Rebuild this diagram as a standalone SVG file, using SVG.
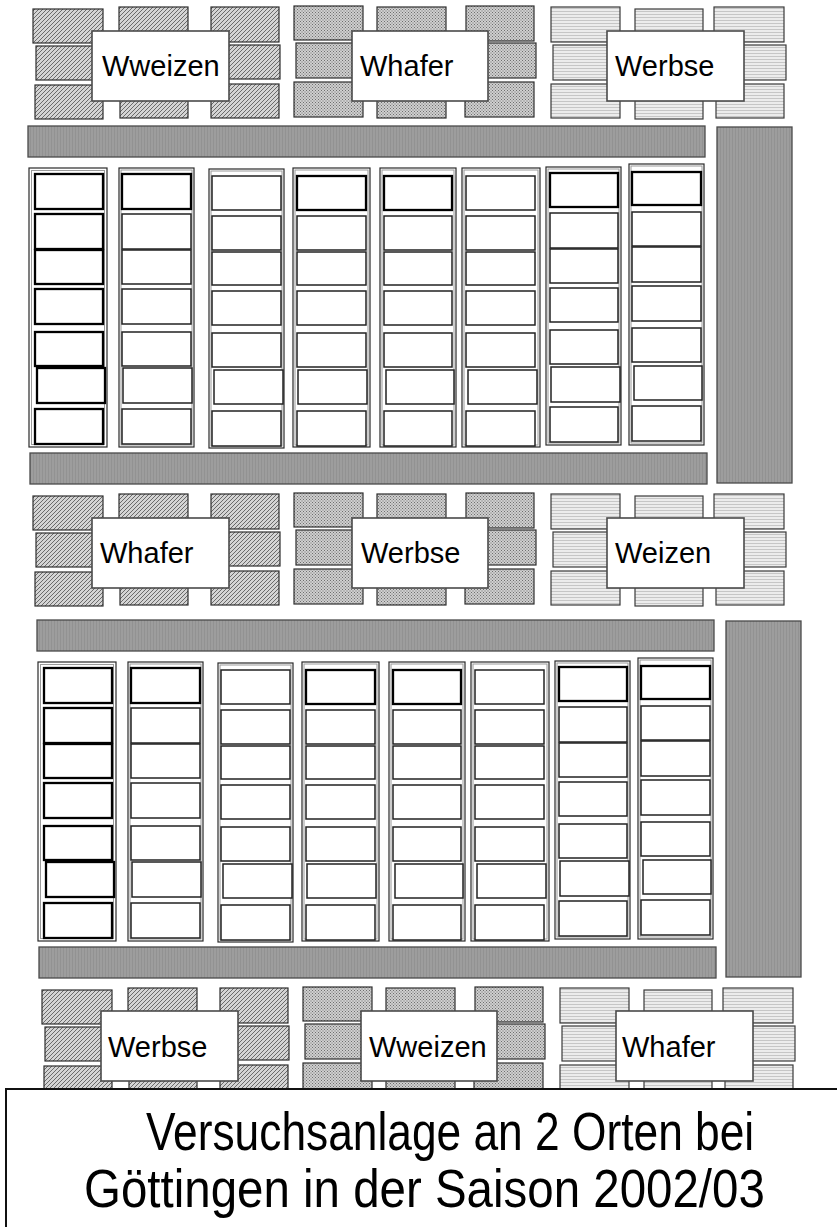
<svg xmlns="http://www.w3.org/2000/svg" xmlns:xlink="http://www.w3.org/1999/xlink" width="837" height="1227" viewBox="0 0 837 1227">
<style>
.bg{fill:#fff}
.bar{fill:url(#barTex);stroke:#4a4a4a;stroke-width:1.3}
.bd{fill:url(#diag);stroke:#2e2e2e;stroke-width:1.2}
.bc{fill:url(#cross);stroke:#2e2e2e;stroke-width:1.2}
.bh{fill:url(#horiz);stroke:#3a3a3a;stroke-width:1.2}
.lab{fill:#fff;stroke:#4a4a4a;stroke-width:1.6}
.lt{font-family:"Liberation Sans",Arial,sans-serif;font-size:29px;fill:#000}
.col{fill:#fff;stroke:#2a2a2a;stroke-width:1.2}
.coli{fill:none;stroke:#9a9a9a;stroke-width:1}
.cell{fill:#fff;stroke:#222;stroke-width:1.5}
.cellk{fill:#fff;stroke:#000;stroke-width:2.3}
.capf{fill:#fff;stroke:none}
.capl{fill:none;stroke:#111;stroke-width:2}
.ct{font-family:"Liberation Sans",Arial,sans-serif;font-size:53px;fill:#000}
</style>
<defs>
<pattern id="barTex" width="3" height="3" patternUnits="userSpaceOnUse">
<rect width="3" height="3" fill="#9d9d9d"/>
<rect width="1" height="3" fill="#929292"/>
</pattern>
<pattern id="diag" width="4" height="4" patternUnits="userSpaceOnUse">
<rect width="4" height="4" fill="#d4d4d4"/>
<path d="M-1,1 L1,-1 M0,4 L4,0 M3,5 L5,3" stroke="#6a6a6a" stroke-width="1"/>
</pattern>
<pattern id="cross" width="3" height="3" patternUnits="userSpaceOnUse">
<rect width="3" height="3" fill="#cfcfcf"/>
<rect x="0" y="0" width="1" height="1" fill="#6e6e6e"/>
<rect x="1.5" y="1.5" width="1" height="1" fill="#6e6e6e"/>
</pattern>
<pattern id="horiz" width="3" height="3" patternUnits="userSpaceOnUse">
<rect width="3" height="3" fill="#ececec"/>
<rect y="2" width="3" height="1" fill="#c6c6c6"/>
</pattern>
<g id="bricks1">
<rect class="bd" x="33" y="9" width="70" height="34"/>
<rect class="bd" x="119" y="7" width="69" height="34"/>
<rect class="bd" x="211" y="7" width="68" height="35"/>
<rect class="bd" x="36" y="46" width="67" height="34"/>
<rect class="bd" x="213" y="45" width="67" height="34"/>
<rect class="bd" x="35" y="85" width="68" height="34"/>
<rect class="bd" x="120" y="84" width="68" height="34"/>
<rect class="bd" x="211" y="84" width="68" height="34"/>
</g>
<g id="bricks2">
<rect class="bc" x="294" y="6" width="69" height="34"/>
<rect class="bc" x="377" y="7" width="69" height="34"/>
<rect class="bc" x="466" y="6" width="68" height="35"/>
<rect class="bc" x="296" y="43" width="67" height="35"/>
<rect class="bc" x="468" y="43" width="68" height="35"/>
<rect class="bc" x="294" y="82" width="69" height="35"/>
<rect class="bc" x="377" y="84" width="69" height="34"/>
<rect class="bc" x="465" y="82" width="69" height="35"/>
</g>
<g id="bricks3">
<rect class="bh" x="551" y="7" width="69" height="35"/>
<rect class="bh" x="635" y="9" width="68" height="34"/>
<rect class="bh" x="714" y="7" width="70" height="35"/>
<rect class="bh" x="553" y="45" width="67" height="35"/>
<rect class="bh" x="718" y="45" width="68" height="35"/>
<rect class="bh" x="551" y="84" width="69" height="34"/>
<rect class="bh" x="635" y="85" width="68" height="34"/>
<rect class="bh" x="716" y="84" width="68" height="34"/>
</g>
<g id="grid">
<rect class="bar" x="28" y="126" width="677" height="31"/>
<rect class="bar" x="30" y="453" width="677" height="31"/>
<rect class="bar" x="717" y="127" width="75" height="356"/>
<g id="col1">
<rect class="col" x="29" y="168" width="78" height="279" stroke-width="2"/>
<rect class="coli" x="31.5" y="170.5" width="73" height="274" stroke="#333"/>
<rect class="cellk" x="35" y="174" width="68" height="35"/>
<rect class="cellk" x="35" y="214" width="68" height="35"/>
<rect class="cellk" x="35" y="250" width="68" height="34"/>
<rect class="cellk" x="35" y="289" width="68" height="35"/>
<rect class="cellk" x="35" y="332" width="68" height="34"/>
<rect class="cellk" x="37" y="368" width="68" height="35"/>
<rect class="cellk" x="35" y="409" width="68" height="35"/>
</g>
<g id="col2">
<rect class="col" x="119" y="168" width="75" height="279"/>
<rect class="coli" x="121" y="170" width="71" height="275"/>
<rect class="cellk" x="122" y="174" width="69" height="35"/>
<rect class="cell" x="122" y="214" width="69" height="35"/>
<rect class="cell" x="122" y="250" width="69" height="34"/>
<rect class="cell" x="122" y="289" width="69" height="35"/>
<rect class="cell" x="122" y="332" width="69" height="34"/>
<rect class="cell" x="123" y="368" width="69" height="35"/>
<rect class="cell" x="122" y="409" width="69" height="35"/>
</g>
<g id="col3">
<rect class="col" x="209" y="169" width="75" height="279"/>
<rect class="coli" x="211" y="171" width="71" height="275"/>
<rect class="cell" x="212" y="176" width="69" height="34"/>
<rect class="cell" x="212" y="216" width="69" height="34"/>
<rect class="cell" x="212" y="252" width="69" height="33"/>
<rect class="cell" x="212" y="291" width="69" height="34"/>
<rect class="cell" x="212" y="333" width="69" height="34"/>
<rect class="cell" x="214" y="370" width="69" height="34"/>
<rect class="cell" x="212" y="411" width="69" height="35"/>
</g>
<g id="col4">
<rect class="col" x="293" y="168" width="77" height="279"/>
<rect class="coli" x="295" y="170" width="73" height="275"/>
<rect class="cellk" x="297" y="176" width="69" height="34"/>
<rect class="cell" x="297" y="216" width="69" height="34"/>
<rect class="cell" x="297" y="252" width="69" height="33"/>
<rect class="cell" x="297" y="291" width="69" height="34"/>
<rect class="cell" x="297" y="333" width="69" height="34"/>
<rect class="cell" x="298" y="370" width="69" height="34"/>
<rect class="cell" x="297" y="411" width="69" height="35"/>
</g>
<g id="col5">
<rect class="col" x="380" y="168" width="76" height="279"/>
<rect class="coli" x="382" y="170" width="72" height="275"/>
<rect class="cellk" x="384" y="176" width="68" height="34"/>
<rect class="cell" x="384" y="216" width="68" height="34"/>
<rect class="cell" x="384" y="252" width="68" height="33"/>
<rect class="cell" x="384" y="291" width="68" height="34"/>
<rect class="cell" x="384" y="333" width="68" height="34"/>
<rect class="cell" x="386" y="370" width="68" height="34"/>
<rect class="cell" x="384" y="411" width="68" height="35"/>
</g>
<g id="col6">
<rect class="col" x="462" y="168" width="78" height="279"/>
<rect class="coli" x="464" y="170" width="74" height="275"/>
<rect class="cell" x="466" y="176" width="69" height="34"/>
<rect class="cell" x="466" y="216" width="69" height="34"/>
<rect class="cell" x="466" y="252" width="69" height="33"/>
<rect class="cell" x="466" y="291" width="69" height="34"/>
<rect class="cell" x="466" y="333" width="69" height="34"/>
<rect class="cell" x="468" y="370" width="69" height="34"/>
<rect class="cell" x="466" y="411" width="69" height="35"/>
</g>
<g id="col7">
<rect class="col" x="546" y="167" width="75" height="278"/>
<rect class="coli" x="548" y="169" width="71" height="274"/>
<rect class="cellk" x="550" y="173" width="68" height="34"/>
<rect class="cell" x="550" y="213" width="68" height="35"/>
<rect class="cell" x="550" y="249" width="68" height="34"/>
<rect class="cell" x="550" y="288" width="68" height="34"/>
<rect class="cell" x="550" y="330" width="68" height="34"/>
<rect class="cell" x="551" y="367" width="69" height="35"/>
<rect class="cell" x="550" y="407" width="68" height="35"/>
</g>
<g id="col8">
<rect class="col" x="629" y="164" width="75" height="281"/>
<rect class="coli" x="631" y="166" width="71" height="277"/>
<rect class="cellk" x="632" y="172" width="69" height="33"/>
<rect class="cell" x="632" y="212" width="69" height="34"/>
<rect class="cell" x="632" y="247" width="69" height="35"/>
<rect class="cell" x="632" y="286" width="69" height="35"/>
<rect class="cell" x="632" y="328" width="69" height="34"/>
<rect class="cell" x="634" y="366" width="68" height="34"/>
<rect class="cell" x="632" y="406" width="69" height="35"/>
</g>
</g>
</defs>
<rect class="bg" x="0" y="0" width="837" height="1227"/>

<g id="field-top">
<g id="plot-top-1">
<use xlink:href="#bricks1"/>
<rect class="lab" x="92" y="31" width="137" height="70"/>
<text class="lt" x="102" y="76">Wweizen</text>
</g>
<g id="plot-top-2">
<use xlink:href="#bricks2"/>
<rect class="lab" x="352" y="31" width="136" height="70"/>
<text class="lt" x="360" y="76">Whafer</text>
</g>
<g id="plot-top-3">
<use xlink:href="#bricks3"/>
<rect class="lab" x="607" y="31" width="137" height="70"/>
<text class="lt" x="615" y="76">Werbse</text>
</g>
</g>

<g id="grid-1">
<use xlink:href="#grid"/>
</g>

<g id="field-middle" transform="translate(0,487)">
<g id="plot-mid-1">
<use xlink:href="#bricks1"/>
<rect class="lab" x="92" y="31" width="137" height="70"/>
<text class="lt" x="100" y="76">Whafer</text>
</g>
<g id="plot-mid-2">
<use xlink:href="#bricks2"/>
<rect class="lab" x="352" y="31" width="136" height="70"/>
<text class="lt" x="361" y="76">Werbse</text>
</g>
<g id="plot-mid-3">
<use xlink:href="#bricks3"/>
<rect class="lab" x="607" y="31" width="137" height="70"/>
<text class="lt" x="615" y="76">Weizen</text>
</g>
</g>

<g id="grid-2" transform="translate(9,494)">
<use xlink:href="#grid"/>
</g>

<g id="field-bottom" transform="translate(9,981)">
<g id="plot-bot-1">
<use xlink:href="#bricks1"/>
<rect class="lab" x="92" y="30" width="137" height="70"/>
<text class="lt" x="99" y="76">Werbse</text>
</g>
<g id="plot-bot-2">
<use xlink:href="#bricks2"/>
<rect class="lab" x="352" y="30" width="136" height="70"/>
<text class="lt" x="360" y="76">Wweizen</text>
</g>
<g id="plot-bot-3">
<use xlink:href="#bricks3"/>
<rect class="lab" x="607" y="30" width="137" height="70"/>
<text class="lt" x="613" y="76">Whafer</text>
</g>
</g>

<g id="caption">
<rect class="capf" x="6" y="1089" width="831" height="138"/>
<path class="capl" d="M6,1227 L6,1089 L837,1089"/>
<text class="ct" transform="translate(146,1150) scale(0.836,1)" x="0" y="0">Versuchsanlage an 2 Orten bei</text>
<text class="ct" transform="translate(84,1207) scale(0.896,1)" x="0" y="0">Göttingen in der Saison 2002/03</text>
</g>

<g id="connectors"/>
</svg>
